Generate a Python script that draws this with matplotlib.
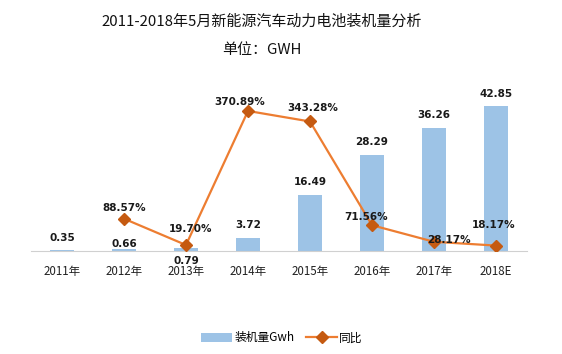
import numpy as np
import matplotlib.pyplot as plt

plt.rcParams['font.family'] = ['Noto Sans CJK SC', 'DejaVu Sans']

### data
years = ['2011年', '2012年', '2013年', '2014年', '2015年', '2016年', '2017年', '2018E']
install_gwh = [0.35, 0.66, 0.79, 3.72, 16.49, 28.29, 36.26, 42.85]
yoy_pct = [None, 88.57, 19.70, 370.89, 343.28, 71.56, 28.17, 18.17]

bar_color = '#9DC3E6'
line_color = '#ED7D31'
marker_color = '#C55A11'

fig = plt.figure(figsize=(5.62, 3.54), dpi=100)
ax = fig.add_axes([31/562, 103/354, 496/562, 171/354])
x = np.arange(len(years))

ax.bar(x, install_gwh, width=0.39, color=bar_color, label='装机量Gwh', zorder=2)
ax.set_xlim(-0.5, len(years) - 0.5)
ax.set_ylim(0, 50.6)

# bar value labels (offsets in points)
bar_offsets = [(0, 5), (0, 0), (0, -13), (0, 6), (0, 6), (0, 6), (0, 6), (0, 5)]
for i, v in enumerate(install_gwh):
    ax.annotate('%.2f' % v, (x[i], v), xytext=bar_offsets[i], textcoords='offset points',
                ha='center', va='bottom', fontsize=7.5, fontweight='bold', color='#1a1a1a',
                family='DejaVu Sans', zorder=5)

ax2 = ax.twinx()
lx = [i for i, v in enumerate(yoy_pct) if v is not None]
ly = [v for v in yoy_pct if v is not None]
ax2.plot(lx, ly, color=line_color, lw=1.6, marker='D', markersize=6,
         markerfacecolor=marker_color, markeredgecolor=marker_color, label='同比', zorder=3)
ax2.set_ylim(4, 452)

line_offsets = [(0, 4), (3, 8), (-6, 2.5), (2, 6), (-4, 2), (11, -2), (-2, 11)]
for xi, v, off in zip(lx, ly, line_offsets):
    ax2.annotate('%.2f%%' % v, (xi, v), xytext=off, textcoords='offset points',
                 ha='center', va='bottom', fontsize=7.5, fontweight='bold', color='#1a1a1a',
                 family='DejaVu Sans', zorder=5)

for a in (ax, ax2):
    for s in ['top', 'right', 'left']:
        a.spines[s].set_visible(False)
    a.set_yticks([])
ax2.spines['bottom'].set_visible(False)
ax.spines['bottom'].set_color('#d0d0d0')
ax.set_xticks(x)
ax.set_xticklabels(years, fontsize=8.3, color='#222222')
ax.tick_params(axis='x', length=0, pad=10)

fig.text(262/562, 1 - 22/354, '2011-2018年5月新能源汽车动力电池装机量分析',
         ha='center', va='center', fontsize=10.8, color='#111111')
fig.text(262/562, 1 - 50/354, '单位：GWH', ha='center', va='center', fontsize=10.8, color='#111111')

h1, l1 = ax.get_legend_handles_labels()
h2, l2 = ax2.get_legend_handles_labels()
fig.legend(h1 + h2, l1 + l2, loc='center', bbox_to_anchor=(282/562, 16/354), ncol=2,
           frameon=False, fontsize=8.5, handlelength=2.6, columnspacing=1.0, handletextpad=0.2)

fig.savefig('out.png', dpi=100)
